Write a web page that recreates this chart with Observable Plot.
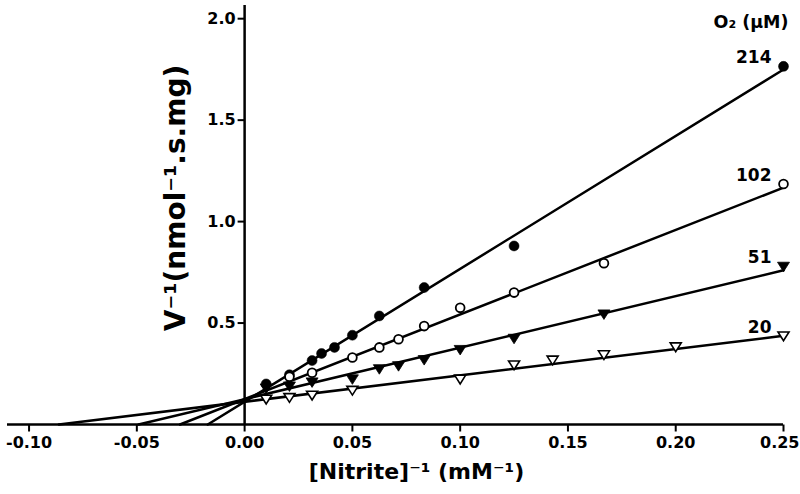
<!DOCTYPE html>
<html><head><meta charset="utf-8">
<script src="https://cdn.jsdelivr.net/npm/d3@7"></script>
<script src="https://cdn.jsdelivr.net/npm/@observablehq/plot@0.6"></script>
<style>body{margin:0;background:#fff} svg{display:block}</style>
</head><body><div id="chart"></div>
<script>
// O2 concentrations (µM) of the four series
const series = ["214", "102", "51", "20"];

// [Nitrite]^-1 (mM^-1) and V^-1 values
const x214 = [0.01, 0.0208, 0.0313, 0.0357, 0.0417, 0.05, 0.0625, 0.0833, 0.125, 0.25];
const y214 = [0.20, 0.245, 0.315, 0.35, 0.38, 0.44, 0.535, 0.675, 0.88, 1.765];
const x102 = [0.0208, 0.0313, 0.05, 0.0625, 0.0714, 0.0833, 0.1, 0.125, 0.1667, 0.25];
const y102 = [0.235, 0.255, 0.33, 0.38, 0.42, 0.485, 0.575, 0.65, 0.795, 1.185];
const x51 = [0.01, 0.0208, 0.0313, 0.05, 0.0625, 0.0714, 0.0833, 0.1, 0.125, 0.1667, 0.25];
const y51 = [0.18, 0.19, 0.21, 0.225, 0.275, 0.29, 0.32, 0.37, 0.425, 0.545, 0.78];
const x20 = [0.01, 0.0208, 0.0313, 0.05, 0.1, 0.125, 0.1429, 0.1667, 0.2, 0.25];
const y20 = [0.126, 0.134, 0.146, 0.17, 0.225, 0.295, 0.319, 0.345, 0.384, 0.438];

// Lineweaver-Burk fit lines (intercept, slope)
const fitIntercepts = [0.112, 0.125, 0.125, 0.112];
const fitSlopes = [6.55, 4.17, 2.54, 1.30];

const xTicks = [-0.10, -0.05, 0.00, 0.05, 0.10, 0.15, 0.20, 0.25];
const yTicks = [0.5, 1.0, 1.5, 2.0];
const xDomain = [-0.11, 0.25];
const yDomain = [0, 2.065];
const xTitle = "[Nitrite]\u207B\u00B9 (mM\u207B\u00B9)";
const yTitle = "V\u207B\u00B9(nmol\u207B\u00B9.s.mg)";
const legendTitle = "O\u2082 (\u03BCM)";

// ---- build tables ----
const xs = [x214, x102, x51, x20];
const ys = [y214, y102, y51, y20];
const points = series.flatMap((s, k) => xs[k].map((x, i) => ({series: s, x, y: ys[k][i]})));
const lastPoints = series.map((s, k) => ({series: s, x: xs[k][xs[k].length - 1], y: ys[k][ys[k].length - 1]}));
const xEnd = xDomain[1];
const fitLines = series.flatMap((s, k) => {
  const b = fitIntercepts[k], m = fitSlopes[k];
  return [{series: s, x: -b / m, y: 0}, {series: s, x: xEnd, y: b + m * xEnd}];
});

const triangleDown = {
  draw(ctx, size) {
    const r = Math.sqrt(size / Math.PI);
    ctx.moveTo(-1.2 * r, -0.8 * r);
    ctx.lineTo(1.2 * r, -0.8 * r);
    ctx.lineTo(0, 1.1 * r);
    ctx.closePath();
  }
};
const yTickSym = {draw(ctx) { ctx.moveTo(-7, 0); ctx.lineTo(0, 0); }};
const xTickSym = {draw(ctx) { ctx.moveTo(0, 0); ctx.lineTo(0, 7); }};

const bySeries = s => points.filter(d => d.series === s);
const tickTxt = {y: 0, text: d => d.toFixed(2), lineAnchor: "top", dy: 12, fontSize: 16, fontWeight: "bold", fill: "black"};

const chart = Plot.plot({
  width: 800,
  height: 494,
  marginLeft: 7,
  marginRight: 17,
  marginTop: 5,
  marginBottom: 70,
  style: {fontFamily: "DejaVu Sans", fontWeight: "bold", background: "white", color: "black"},
  x: {domain: xDomain, axis: null},
  y: {domain: yDomain, axis: null},
  marks: [
    Plot.ruleY([0], {stroke: "black", strokeWidth: 2.5}),
    Plot.ruleX([0], {stroke: "black", strokeWidth: 2.5}),
    Plot.dot(xTicks, {x: d => d, y: 0, symbol: xTickSym, stroke: "black", strokeWidth: 2, r: 1}),
    Plot.dot(yTicks, {x: 0, y: d => d, symbol: yTickSym, stroke: "black", strokeWidth: 2, r: 1}),
    Plot.text(xTicks.slice(0, -1), {x: d => d, ...tickTxt}),
    Plot.text(xTicks.slice(-1), {x: d => d, ...tickTxt, textAnchor: "end", dx: 16}),
    Plot.text(yTicks, {x: 0, y: d => d, text: d => d.toFixed(1), textAnchor: "end", dx: -9, fontSize: 16, fontWeight: "bold", fill: "black"}),
    Plot.line(fitLines, {x: "x", y: "y", z: "series", stroke: "black", strokeWidth: 2.5}),
    Plot.dot(bySeries("214"), {x: "x", y: "y", r: 5, symbol: "circle", fill: "black", stroke: "black", strokeWidth: 0.5}),
    Plot.dot(bySeries("102"), {x: "x", y: "y", r: 4.4, symbol: "circle", fill: "white", stroke: "black", strokeWidth: 1.8}),
    Plot.dot(bySeries("51"), {x: "x", y: "y", r: 5, symbol: triangleDown, fill: "black", stroke: "black", strokeWidth: 0.8}),
    Plot.dot(bySeries("20"), {x: "x", y: "y", r: 4.6, symbol: triangleDown, fill: "white", stroke: "black", strokeWidth: 1.6}),
    Plot.text(lastPoints, {x: "x", y: "y", text: "series", textAnchor: "end", lineAnchor: "bottom", dx: -12, dy: -3, fontSize: 17, fontWeight: "bold", fill: "black"}),
    Plot.text([legendTitle], {frameAnchor: "top-right", textAnchor: "end", lineAnchor: "bottom", dx: 5, dy: 22, fontSize: 17.5, fontWeight: "bold", fill: "black"}),
    Plot.text([xTitle], {frameAnchor: "bottom", textAnchor: "middle", lineAnchor: "bottom", dx: 21, dy: 54, fontSize: 22, fontWeight: "bold", fill: "black"}),
    Plot.text([yTitle], {frameAnchor: "left", textAnchor: "middle", lineAnchor: "middle", rotate: -90, dx: 169, dy: -17, fontSize: 28, fontWeight: "bold", fill: "black"})
  ]
});
document.getElementById("chart").appendChild(chart);
</script>
</body></html>
